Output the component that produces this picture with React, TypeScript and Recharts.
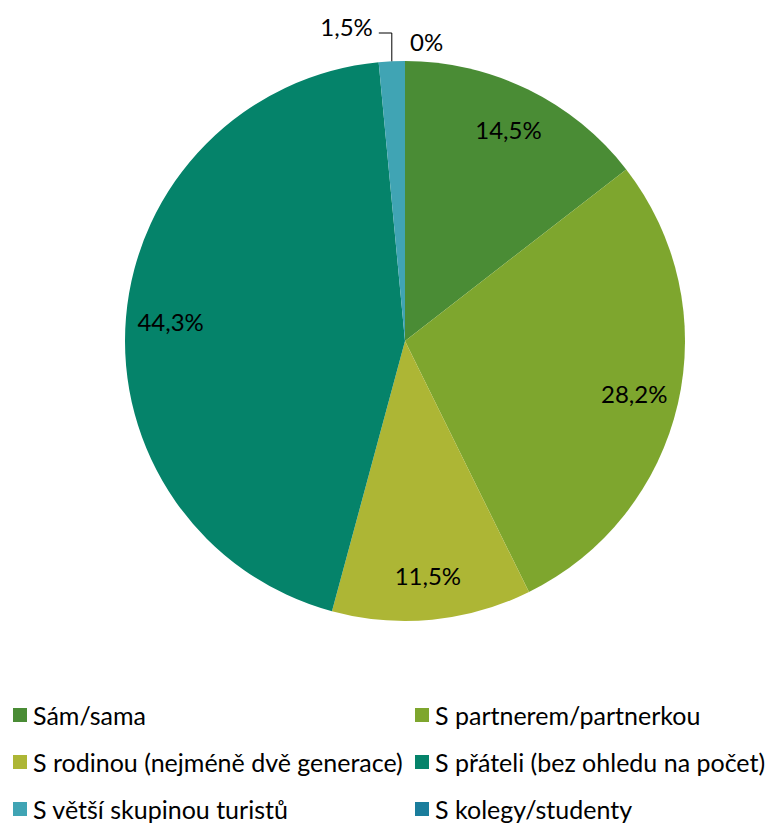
import React from 'react'
import { PieChart, Pie, Cell, Legend } from 'recharts'

const categories = [
  'Sám/sama',
  'S partnerem/partnerkou',
  'S rodinou (nejméně dvě generace)',
  'S přáteli (bez ohledu na počet)',
  'S větší skupinou turistů',
  'S kolegy/studenty',
]
const shares = [14.5, 28.2, 11.5, 44.3, 1.5, 0]
const colors = ['#4a8c35', '#7ea62e', '#adb635', '#05836a', '#40a4b4', '#1a7d9c']

const data = categories.map((name, i) => ({ name, value: shares[i] }))

const FONT = 'Lato, "Liberation Sans", sans-serif'
const RAD = Math.PI / 180

const fmt = (v: number) => `${String(v).replace('.', ',')}%`

const renderLabel = (props: any) => {
  const { cx, cy, outerRadius, midAngle, index, value } = props
  const cos = Math.cos(-midAngle * RAD)
  const sin = Math.sin(-midAngle * RAD)
  if (index === 4) {
    const sx = cx + outerRadius * cos
    const sy = cy + outerRadius * sin
    const ey = cy - outerRadius - 28
    const ex = sx - 13
    return (
      <g>
        <polyline points={`${sx},${sy} ${sx},${ey} ${ex},${ey}`} fill="none" stroke="#000" strokeWidth={1} />
        <text x={ex - 6} y={ey - 7} textAnchor="end" dominantBaseline="central" fontSize={24} fill="#000" fontFamily={FONT}>
          {fmt(value)}
        </text>
      </g>
    )
  }
  if (index === 5) {
    return (
      <text x={cx + 5} y={cy - outerRadius - 20} textAnchor="start" dominantBaseline="central" fontSize={24} fill="#000" fontFamily={FONT}>
        {fmt(value)}
      </text>
    )
  }
  const r = outerRadius * 0.84
  return (
    <text x={cx + r * cos} y={cy + r * sin} textAnchor="middle" dominantBaseline="central" fontSize={24} fill="#000" fontFamily={FONT}>
      {fmt(value)}
    </text>
  )
}

const LegendContent = () => (
  <div style={{ position: 'relative', width: 767, height: 118, fontFamily: FONT, fontSize: 25, lineHeight: '26px', color: '#000' }}>
    {categories.map((name, i) => {
      const col = i % 2
      const row = Math.floor(i / 2)
      return (
        <div
          key={name}
          style={{
            position: 'absolute',
            left: col === 0 ? 13 : 415,
            top: row * 47,
            display: 'flex',
            alignItems: 'center',
            whiteSpace: 'nowrap',
            height: 30,
          }}
        >
          <span style={{ display: 'inline-block', width: 14, height: 14, background: colors[i], marginRight: 6 }} />
          <span>{name}</span>
        </div>
      )
    })}
  </div>
)

export default function App() {
  return (
    <div style={{ position: 'absolute', left: 0, top: 0, width: 767, height: 826, background: '#fff' }}>
      <PieChart width={767} height={826} margin={{ top: 0, right: 0, bottom: 0, left: 0 }}>
        <Pie
          data={data}
          dataKey="value"
          nameKey="name"
          cx={405}
          cy={341}
          outerRadius={280}
          startAngle={90}
          endAngle={-270}
          stroke="none"
          label={renderLabel}
          labelLine={false}
          isAnimationActive={false}
        >
          {data.map((d, i) => (
            <Cell key={d.name} fill={colors[i]} />
          ))}
        </Pie>
        <Legend content={<LegendContent />} wrapperStyle={{ position: 'absolute', left: 0, top: 700, width: 767 }} />
      </PieChart>
    </div>
  )
}
